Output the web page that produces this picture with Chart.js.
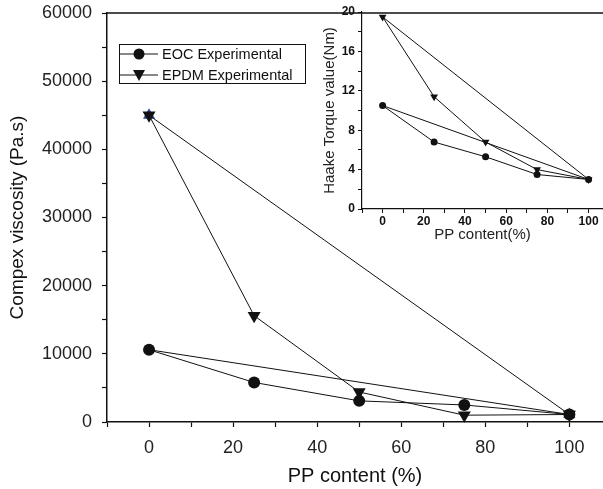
<!DOCTYPE html>
<html>
<head>
<meta charset="utf-8">
<script src="https://cdn.jsdelivr.net/npm/chart.js@4.4.1/dist/chart.umd.min.js"></script>
<style>
    html, body { margin: 0; padding: 0; background: #fff; }
    #wrap { position: relative; width: 603px; height: 489px; overflow: hidden; }
    #mainChart { position: absolute; left: 0; top: 0; }
    #insetChart { position: absolute; left: 310px; top: 0; }
</style>
</head>
<body>
<div id="wrap">
    <canvas id="mainChart" width="603" height="489"></canvas>
    <canvas id="insetChart" width="293" height="250"></canvas>
</div>
<script>
// --- datos ---
const ppContent = [0, 25, 50, 75, 100];
const eocViscosity = [10600, 5800, 3100, 2500, 1100];
const epdmViscosity = [45000, 15600, 4400, 1000, 1100];
const blueMarkX = [0, 100];
const blueMarkY = [45000, 1100];

const eocTorque = [10.5, 6.8, 5.3, 3.5, 3.0];
const epdmTorque = [19.5, 11.4, 6.8, 4.0, 3.0];

const mainXTicks = [0, 20, 40, 60, 80, 100];
const insetXTicks = [0, 20, 40, 60, 80, 100];
const minorX = [-10, 0, 10, 20, 30, 40, 50, 60, 70, 80, 90, 100];

const FONT = "'Liberation Sans', Arial, sans-serif";

// cierra la curva volviendo al primer punto
function loop(xs, ys) {
    const pts = xs.map((x, i) => ({ x: x, y: ys[i] }));
    pts.push({ x: xs[0], y: ys[0] });
    return pts;
}

function serie(label, xs, ys, style, r) {
    return {
        label: label,
        data: loop(xs, ys),
        borderColor: '#111',
        borderWidth: 1,
        backgroundColor: '#111',
        pointStyle: style,
        pointRotation: style === 'triangle' ? 180 : 0,
        pointRadius: (c) => c.dataIndex === xs.length ? 0 : r,
        pointBorderWidth: 0,
        tension: 0,
        clip: false
    };
}

// sin relleno automatico de los ejes: el area queda donde se pide
const noPad = (s) => { s.paddingLeft = 0; s.paddingRight = 0; s.paddingTop = 0; s.paddingBottom = 0; };

// linea superior del marco
const topBorder = {
    id: 'topBorder',
    afterDraw(chart) {
        const { ctx, chartArea } = chart;
        ctx.save();
        ctx.strokeStyle = '#111';
        ctx.lineWidth = 1.3;
        ctx.beginPath();
        ctx.moveTo(chartArea.left, chartArea.top);
        ctx.lineTo(chart.width, chartArea.top);
        ctx.stroke();
        ctx.restore();
    }
};

// leyenda con recuadro
const boxLegend = {
    id: 'boxLegend',
    afterDraw(chart) {
        const ctx = chart.ctx;
        const items = chart.data.datasets.filter(d => d.label);
        ctx.save();
        ctx.strokeStyle = '#111';
        ctx.lineWidth = 1;
        ctx.strokeRect(119.5, 44.5, 186, 39);
        items.forEach((d, i) => {
            const y = 54 + i * 21;
            ctx.beginPath();
            ctx.moveTo(120, y);
            ctx.lineTo(158, y);
            ctx.stroke();
            ctx.fillStyle = '#111';
            if (d.pointStyle === 'circle') {
                ctx.beginPath();
                ctx.arc(139, y, 5.5, 0, Math.PI * 2);
                ctx.fill();
            } else {
                ctx.beginPath();
                ctx.moveTo(133, y - 5);
                ctx.lineTo(145, y - 5);
                ctx.lineTo(139, y + 6);
                ctx.closePath();
                ctx.fill();
            }
            ctx.font = '14.5px ' + FONT;
            ctx.textBaseline = 'middle';
            ctx.fillText(d.label, 162, y + 1);
        });
        ctx.restore();
    }
};

new Chart(document.getElementById('mainChart'), {
    type: 'line',
    data: {
        datasets: [
            {
                label: '',
                data: blueMarkX.map((x, i) => ({ x: x, y: blueMarkY[i] })),
                showLine: false,
                pointStyle: 'triangle',
                pointRadius: 7,
                backgroundColor: '#2a48a0',
                borderWidth: 0,
                clip: false,
                order: 3
            },
            serie('EOC Experimental', ppContent, eocViscosity, 'circle', 6),
            serie('EPDM Experimental', ppContent, epdmViscosity, 'triangle', 7.5)
        ]
    },
    options: {
        responsive: false,
        animation: false,
        layout: { autoPadding: false, padding: { top: 13, right: 0, left: 0, bottom: 0 } },
        plugins: { legend: { display: false }, tooltip: { enabled: false } },
        scales: {
            x: {
                type: 'linear', min: -10, max: 108,
                afterFit: (s) => { s.height = 67; noPad(s); },
                afterBuildTicks: (s) => { s.ticks = minorX.map(v => ({ value: v })); },
                ticks: {
                    callback: (v) => mainXTicks.includes(v) ? String(v) : '',
                    color: '#222', font: { family: FONT, size: 18 }, padding: 10, maxRotation: 0, autoSkip: false
                },
                grid: { drawOnChartArea: false, color: '#111', tickLength: 5, tickWidth: 1.2 },
                border: { color: '#111', width: 1.5 },
                title: { display: true, text: 'PP content (%)', color: '#111', font: { family: FONT, size: 20 }, padding: { top: 0, bottom: 1 } }
            },
            y: {
                type: 'linear', min: 0, max: 60000,
                afterFit: (s) => { s.width = 107; noPad(s); },
                ticks: {
                    stepSize: 5000,
                    callback: (v) => v % 10000 === 0 ? String(v) : '',
                    color: '#222', font: { family: FONT, size: 18 }, padding: 10, autoSkip: false
                },
                grid: { drawOnChartArea: false, color: '#111', tickLength: 5, tickWidth: 1.2 },
                border: { color: '#111', width: 1.5 },
                title: { display: true, text: 'Compex viscosity (Pa.s)', color: '#111', font: { family: FONT, size: 19 }, padding: { bottom: 0, top: 6 } }
            }
        }
    },
    plugins: [topBorder, boxLegend]
});

new Chart(document.getElementById('insetChart'), {
    type: 'line',
    data: {
        datasets: [
            serie('EOC', ppContent, eocTorque, 'circle', 3.5),
            serie('EPDM', ppContent, epdmTorque, 'triangle', 4.5)
        ]
    },
    options: {
        responsive: false,
        animation: false,
        layout: { autoPadding: false, padding: { top: 12, right: 0, left: 0, bottom: 0 } },
        plugins: { legend: { display: false }, tooltip: { enabled: false } },
        scales: {
            x: {
                type: 'linear', min: -10, max: 107,
                afterFit: (s) => { s.height = 41; noPad(s); },
                afterBuildTicks: (s) => { s.ticks = minorX.map(v => ({ value: v })); },
                ticks: {
                    callback: (v) => insetXTicks.includes(v) ? String(v) : '',
                    color: '#111', font: { family: FONT, size: 12, weight: 'bold' }, padding: 1, maxRotation: 0, autoSkip: false
                },
                grid: { drawOnChartArea: false, color: '#111', tickLength: 4, tickWidth: 1 },
                border: { color: '#111', width: 1.2 },
                title: { display: true, text: 'PP content(%)', color: '#222', font: { family: FONT, size: 15 }, padding: { top: 0, bottom: 6 } }
            },
            y: {
                type: 'linear', min: 0, max: 20,
                afterFit: (s) => { s.width = 52; noPad(s); },
                ticks: {
                    stepSize: 2,
                    callback: (v) => v % 4 === 0 ? String(v) : '',
                    color: '#111', font: { family: FONT, size: 12, weight: 'bold' }, padding: 3, autoSkip: false
                },
                grid: { drawOnChartArea: false, color: '#111', tickLength: 4, tickWidth: 1 },
                border: { color: '#111', width: 1.2 },
                title: { display: true, text: 'Haake Torque value(Nm)', color: '#222', font: { family: FONT, size: 15 }, padding: { bottom: 0, top: 11 } }
            }
        }
    }
});
</script>
</body>
</html>
